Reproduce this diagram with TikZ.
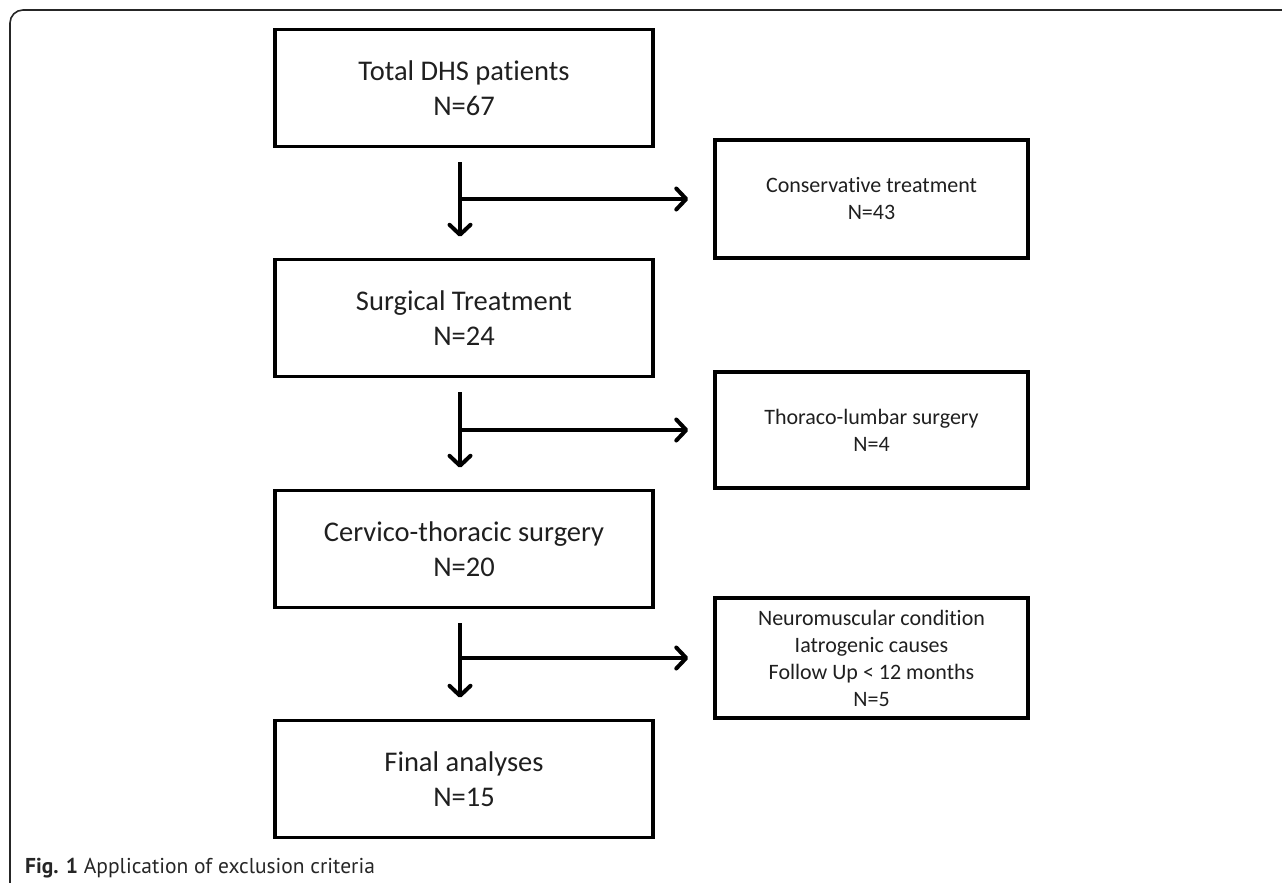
\documentclass[tikz,border=0pt]{standalone}
\usepackage{fontspec}
\setmainfont{Carlito}[Ligatures={NoCommon}]
\newfontfamily\capfont{PT Sans}
\usetikzlibrary{arrows.meta}
\tikzset{
  mainbox/.style={draw=black, line width=3.5pt, minimum width=378pt, minimum height=117pt,
    align=center, inner sep=0pt, font=\fontsize{28.5}{35}\selectfont, text=black!88},
  sidebox/.style={draw=black, line width=3.5pt, minimum width=313pt, minimum height=117pt,
    align=center, inner sep=0pt, font=\fontsize{22}{27}\selectfont, text=black!88},
  arr/.style={line width=4pt, -{Straight Barb[length=10pt,width=21pt,line join=round,line cap=round]}},
  frame/.style={draw=black!85, line width=1.6pt}
}
\begin{document}
\begin{tikzpicture}[x=1pt,y=-1pt]
\useasboundingbox (0,0) rectangle (1282,883);
% outer frame
\draw[frame, rounded corners=13pt] (10,900) -- (10,10) -- (1300,10);
% main boxes
\node[mainbox] (b1) at (464,88) {Total DHS patients\\N=67};
\node[mainbox] (b2) at (464,318) {Surgical Treatment\\N=24};
\node[mainbox] (b3) at (464,549) {Cervico-thoracic surgery\\N=20};
\node[mainbox] (b4) at (464,779) {Final analyses\\N=15};
% side boxes
\node[sidebox, minimum height=118pt] (r1) at (871.5,199) {Conservative treatment\\N=43};
\node[sidebox, minimum height=116pt] (r2) at (871.5,430) {Thoraco-lumbar surgery\\N=4};
\node[sidebox, minimum height=120pt] (r3) at (871.5,658) {Neuromuscular condition\\Iatrogenic causes\\Follow Up {<} 12 months\\N=5};
% junctions
\coordinate (j1) at ([xshift=-4pt]b1.south |- r1.west);
\coordinate (j2) at ([xshift=-4pt]b2.south |- r2.west);
\coordinate (j3) at ([xshift=-4pt]b3.south |- r3.west);
% arrows
\draw[arr] ([xshift=-4pt,yshift=-14pt]b1.south) -- ([xshift=-4pt,yshift=21pt]b2.north);
\draw[arr] (j1) -- ([xshift=-25pt]r1.west);
\draw[arr] ([xshift=-4pt,yshift=-14pt]b2.south) -- ([xshift=-4pt,yshift=21pt]b3.north);
\draw[arr] (j2) -- ([xshift=-25pt]r2.west);
\draw[arr] ([xshift=-4pt,yshift=-14pt]b3.south) -- ([xshift=-4pt,yshift=21pt]b4.north);
\draw[arr] (j3) -- ([xshift=-25pt]r3.west);
% caption
\node[anchor=base west, inner sep=0pt, font=\capfont\fontsize{21.5}{26}\selectfont, text=black!85] (cap) at (25,873) {\textbf{Fig. 1} Application of exclusion criteria};
\end{tikzpicture}
\end{document}
